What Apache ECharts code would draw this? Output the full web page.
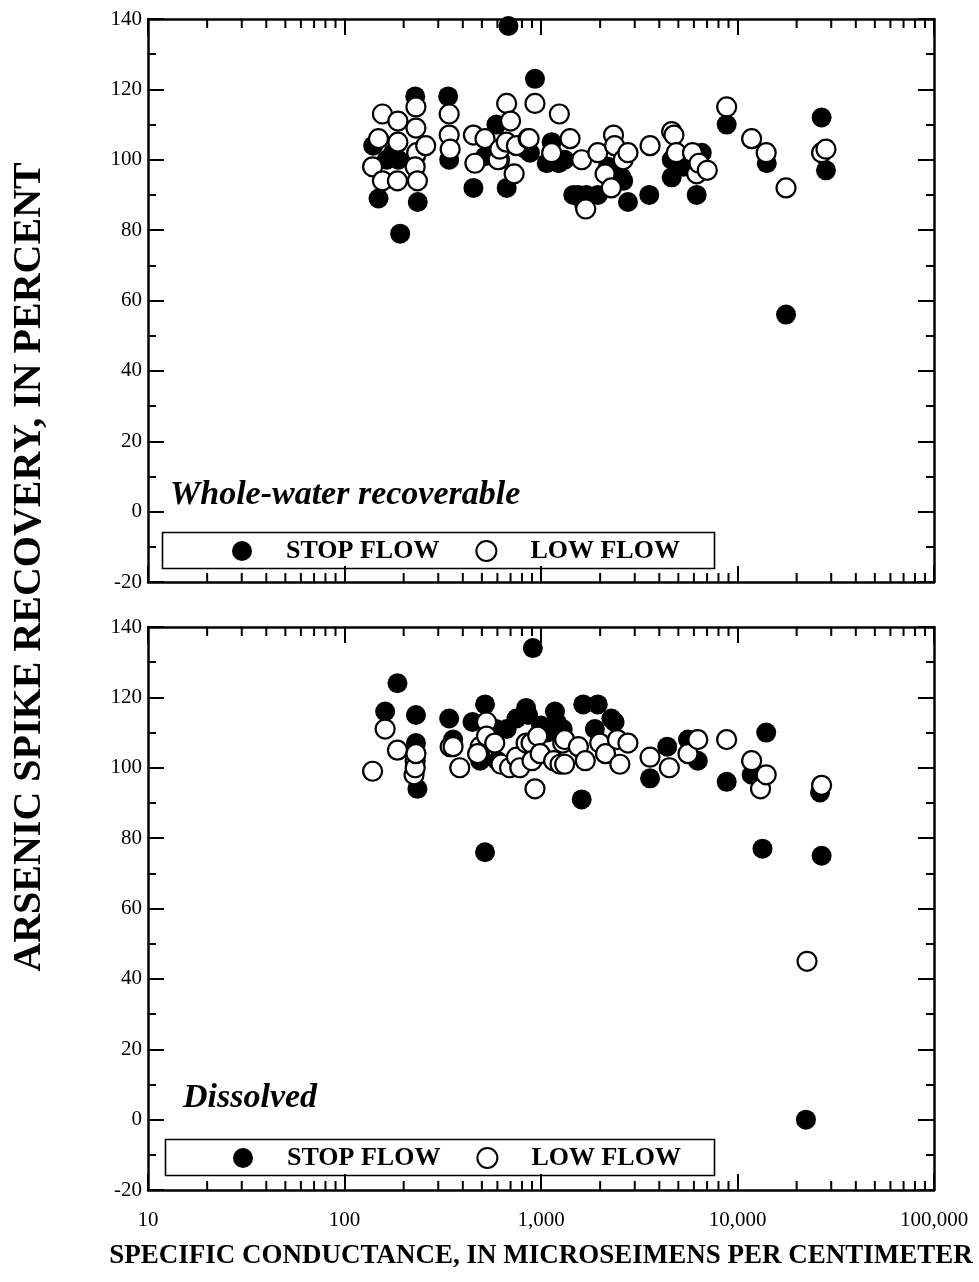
<!DOCTYPE html>
<html>
<head>
<meta charset="utf-8">
<style>
  html, body { margin: 0; padding: 0; background: #fff; }
  #chart { width: 979px; height: 1282px; }
</style>
<script src="https://cdn.jsdelivr.net/npm/echarts@6/dist/echarts.min.js"></script>
</head>
<body>
<div id="chart"></div>
<script>
// ---------- DATA ----------
// Specific conductance (uS/cm), arsenic spike recovery (percent)
const wholeStopFlow = [
  [140,104],[149,89],[164,100],[177,102],[188,100],[192,79],[229,118],[236,88],[231,101],
  [337,118],[341,100],[453,92],[520,101],[593,110],[620,100],[669,92],[683,138],[840,103],
  [932,123],[879,102],[1069,99],[1133,105],[1230,99],[1320,100],[1460,90],[1548,90],[1660,87],
  [1700,90],[1946,90],[2190,98],[2570,95],[2620,94],[2770,88],[3556,90],[4624,95],[4624,100],
  [5300,98],[6200,90],[6580,102],[8810,110],[14090,99],[17660,56],[26800,112],[28200,97]
];
const wholeLowFlow = [
  [139,98],[149,106],[156,113],[156,94],[187,111],[187,105],[186,94],[231,115],[231,109],
  [233,102],[229,98],[235,94],[259,104],[341,113],[341,107],[345,103],[453,107],[461,99],
  [519,106],[605,100],[617,103],[666,105],[669,116],[700,111],[730,96],[750,104],[860,106],
  [932,116],[870,106],[1133,102],[1240,113],[1406,106],[1611,100],[1690,86],[1946,102],
  [2120,96],[2280,92],[2340,107],[2370,104],[2620,100],[2770,102],[3590,104],[4624,108],
  [4750,107],[4880,102],[5900,102],[6200,96],[6370,99],[7020,97],[8810,115],[11800,106],
  [14000,102],[17660,92],[26800,102],[28200,103]
];
const dissolvedStopFlow = [
  [161,116],[186,124],[231,115],[231,107],[235,94],[341,114],[357,108],[448,113],[490,104],
  [490,102],[519,118],[519,76],[590,111],[600,102],[669,111],[750,114],[840,117],[860,115],
  [909,134],[1000,112],[1070,110],[1178,116],[1200,113],[1290,111],[1611,91],[1640,118],
  [1880,111],[1946,118],[2280,114],[2370,113],[3590,97],[4390,106],[5600,108],[6280,102],
  [8810,96],[11800,98],[14000,110],[13400,77],[22300,0],[26300,93],[26800,75]
];
const dissolvedLowFlow = [
  [139,99],[161,111],[186,105],[229,102],[226,98],[229,100],[231,104],[345,106],[357,106],
  [386,100],[490,106],[476,104],[528,113],[528,109],[582,107],[626,101],[692,100],[750,103],
  [780,100],[840,107],[890,107],[932,94],[963,109],[900,102],[990,104],[1160,102],[1250,101],
  [1290,107],[1320,108],[1320,101],[1550,106],[1680,102],[1990,107],[2130,104],[2450,108],
  [2520,101],[2770,107],[3590,103],[4500,100],[5600,104],[6280,108],[8810,108],[11800,102],
  [13100,94],[14000,98],[22600,45],[26800,95]
];
// Log-axis minor tick positions (2..9 within each decade)
const minorTickValues = [
  20,30,40,50,60,70,80,90,
  200,300,400,500,600,700,800,900,
  2000,3000,4000,5000,6000,7000,8000,9000,
  20000,30000,40000,50000,60000,70000,80000,90000
];
const seriesNames = ['STOP FLOW', 'LOW FLOW'];
const panelLabels = ['Whole-water recoverable', 'Dissolved'];
const xTitle = 'SPECIFIC CONDUCTANCE, IN MICROSEIMENS PER CENTIMETER';
const yTitle = 'ARSENIC SPIKE RECOVERY, IN PERCENT';
const yMin = -20, yMax = 140, yStep = 20;
const xMin = 10, xMax = 100000;

// ---------- CHART ----------
const FONT = '"Liberation Serif", "Times New Roman", serif';
const chart = echarts.init(document.getElementById('chart'), null, { renderer: 'canvas' });

function xAxisDef(gridIndex, position, showLabel) {
  return {
    type: 'log', logBase: 10, gridIndex, position, min: xMin, max: xMax,
    axisLine: { show: true, onZero: false, lineStyle: { color: '#000', width: 2.5 } },
    axisTick: { show: true, inside: true, length: 16, lineStyle: { color: '#000', width: 2 } },
    axisLabel: {
      show: showLabel, margin: 20, color: '#000', fontFamily: FONT, fontSize: 21,
      formatter: v => Math.round(v).toLocaleString('en-US')
    },
    splitLine: { show: false }, minorTick: { show: false }
  };
}
function yAxisDef(gridIndex, position, showLabel) {
  return {
    type: 'value', gridIndex, position, min: yMin, max: yMax, interval: yStep,
    axisLine: { show: true, onZero: false, lineStyle: { color: '#000', width: 2.5 } },
    axisTick: { show: true, inside: true, length: 16, lineStyle: { color: '#000', width: 2 } },
    minorTick: { show: true, splitNumber: 2, length: 8, lineStyle: { color: '#000', width: 2 } },
    axisLabel: { show: showLabel, margin: 6, color: '#000', fontFamily: FONT, fontSize: 21 },
    splitLine: { show: false }
  };
}
function minorTickSeries(xi, yi) {
  return {
    type: 'custom', xAxisIndex: xi, yAxisIndex: yi, silent: true, clip: false, z: 10,
    data: minorTickValues.map(v => [v, yMin]),
    renderItem: (params, api) => {
      const v = api.value(0);
      const top = api.coord([v, yMax]);
      const bot = api.coord([v, yMin]);
      return {
        type: 'group',
        children: [
          { type: 'line', shape: { x1: top[0], y1: top[1], x2: top[0], y2: top[1] + 9 }, style: { stroke: '#000', lineWidth: 2 } },
          { type: 'line', shape: { x1: bot[0], y1: bot[1], x2: bot[0], y2: bot[1] - 9 }, style: { stroke: '#000', lineWidth: 2 } }
        ]
      };
    }
  };
}
const stopStyle = { color: '#000', borderColor: '#000', borderWidth: 0, opacity: 1 };
const lowStyle = { color: '#fff', borderColor: '#000', borderWidth: 2.2, opacity: 1 };
function scatter(name, data, xi, yi, style, size) {
  return { type: 'scatter', name, data, xAxisIndex: xi, yAxisIndex: yi, symbol: 'circle',
    symbolSize: size, itemStyle: style, emphasis: { disabled: true }, clip: false };
}
function legendDef(left, top) {
  return {
    data: seriesNames, left, top, orient: 'horizontal', padding: 0,
    icon: 'circle', itemWidth: 20, itemHeight: 20, itemGap: 36,
    selectedMode: false,
    textStyle: { color: '#000', fontFamily: FONT, fontWeight: 'bold', fontSize: 26, padding: [0, 0, 0, 29] }
  };
}

const option = {
  animation: false,
  backgroundColor: '#fff',
  grid: [
    { left: 148, top: 19, width: 786, height: 563 },
    { left: 148, top: 627, width: 786, height: 563 }
  ],
  xAxis: [
    xAxisDef(0, 'bottom', false), xAxisDef(0, 'top', false),
    xAxisDef(1, 'bottom', true), xAxisDef(1, 'top', false)
  ],
  yAxis: [
    yAxisDef(0, 'left', true), yAxisDef(0, 'right', false),
    yAxisDef(1, 'left', true), yAxisDef(1, 'right', false)
  ],
  legend: [legendDef(232, 538), legendDef(233, 1145)],
  series: [
    minorTickSeries(0, 0), minorTickSeries(2, 2),
    scatter(seriesNames[0], wholeStopFlow, 0, 0, stopStyle, 20),
    scatter(seriesNames[1], wholeLowFlow, 0, 0, lowStyle, 19),
    scatter(seriesNames[0], dissolvedStopFlow, 2, 2, stopStyle, 20),
    scatter(seriesNames[1], dissolvedLowFlow, 2, 2, lowStyle, 19)
  ],
  graphic: [
    { type: 'rect', left: 160, top: 530, shape: { width: 552, height: 36 }, style: { fill: 'none', stroke: '#000', lineWidth: 1.6 }, z: 1 },
    { type: 'rect', left: 163, top: 1137, shape: { width: 549, height: 36 }, style: { fill: 'none', stroke: '#000', lineWidth: 1.6 }, z: 1 },
    { type: 'text', x: 170, y: 495, style: { text: panelLabels[0], fill: '#000', font: 'italic bold 34px ' + FONT, textVerticalAlign: 'middle' } },
    { type: 'text', x: 183, y: 1098, style: { text: panelLabels[1], fill: '#000', font: 'italic bold 34px ' + FONT, textVerticalAlign: 'middle' } },
    { type: 'text', x: 541, y: 1256, style: { text: xTitle, fill: '#000', font: 'bold 27px ' + FONT, textAlign: 'center', textVerticalAlign: 'middle' } },
    { type: 'text', x: 30, y: 567, rotation: Math.PI / 2, style: { text: yTitle, fill: '#000', font: 'bold 40px ' + FONT, textAlign: 'center', textVerticalAlign: 'middle' } }
  ]
};
chart.setOption(option);
</script>
</body>
</html>
